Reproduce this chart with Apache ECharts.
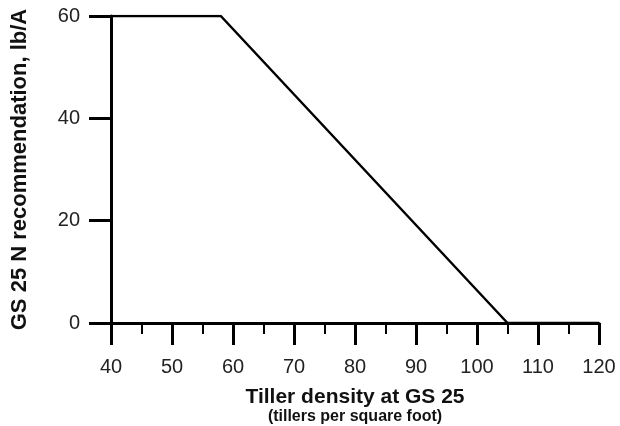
<!DOCTYPE html>
<html>
<head>
<meta charset="utf-8">
<script src="https://cdn.jsdelivr.net/npm/echarts@6/dist/echarts.min.js"></script>
<style>
	html, body { margin: 0; padding: 0; background: #fff; }
	#chart { width: 620px; height: 426px; }
</style>
</head>
<body>
<div id="chart"></div>
<script>
	// tiller density (x) vs N recommendation (y)
	var tillerDensity = [40, 58, 105, 120];
	var nRecommendation = [60, 60, 0, 0];
	var xTicks = [40, 50, 60, 70, 80, 90, 100, 110, 120];
	var yTicks = [0, 20, 40, 60];

	var chart = echarts.init(document.getElementById('chart'));
	var font = 'Liberation Sans, Arial, Helvetica, sans-serif';

	chart.setOption({
		animation: false,
		grid: {
			left: 111,
			right: 21,
			top: 16,
			bottom: 103,
			outerBoundsMode: 'none'
		},
		xAxis: {
			type: 'value',
			min: xTicks[0],
			max: xTicks[xTicks.length - 1],
			interval: 10,
			name: '{a|Tiller density at GS 25}\n{b|(tillers per square foot)}',
			nameLocation: 'middle',
			nameGap: 63,
			nameTextStyle: {
				rich: {
					a: { fontFamily: font, fontWeight: 'bold', fontSize: 21, color: '#111', lineHeight: 22 },
					b: { fontFamily: font, fontWeight: 'bold', fontSize: 16, color: '#111', lineHeight: 18 }
				}
			},
			axisLine: { show: true, onZero: false, lineStyle: { color: '#000', width: 3 } },
			axisTick: { show: true, length: 22, lineStyle: { color: '#000', width: 3 } },
			minorTick: { show: true, splitNumber: 2, length: 11, lineStyle: { color: '#000', width: 2 } },
			splitLine: { show: false },
			axisLabel: { margin: 34, fontFamily: font, fontSize: 20, color: '#222' }
		},
		yAxis: {
			type: 'value',
			min: yTicks[0],
			max: yTicks[yTicks.length - 1],
			interval: 20,
			name: 'GS 25 N recommendation, lb/A',
			nameLocation: 'middle',
			nameRotate: 90,
			nameGap: 80,
			nameTextStyle: { fontFamily: font, fontWeight: 'bold', fontSize: 22, color: '#111' },
			axisLine: { show: true, lineStyle: { color: '#000', width: 3 } },
			axisTick: { show: true, length: 22, lineStyle: { color: '#000', width: 3 } },
			splitLine: { show: false },
			axisLabel: { margin: 31, fontFamily: font, fontSize: 20, color: '#222' }
		},
		series: [{
			type: 'line',
			data: tillerDensity.map(function (x, i) { return [x, nRecommendation[i]]; }),
			symbol: 'none',
			lineStyle: { color: '#000', width: 2.5 }
		}]
	});
</script>
</body>
</html>
